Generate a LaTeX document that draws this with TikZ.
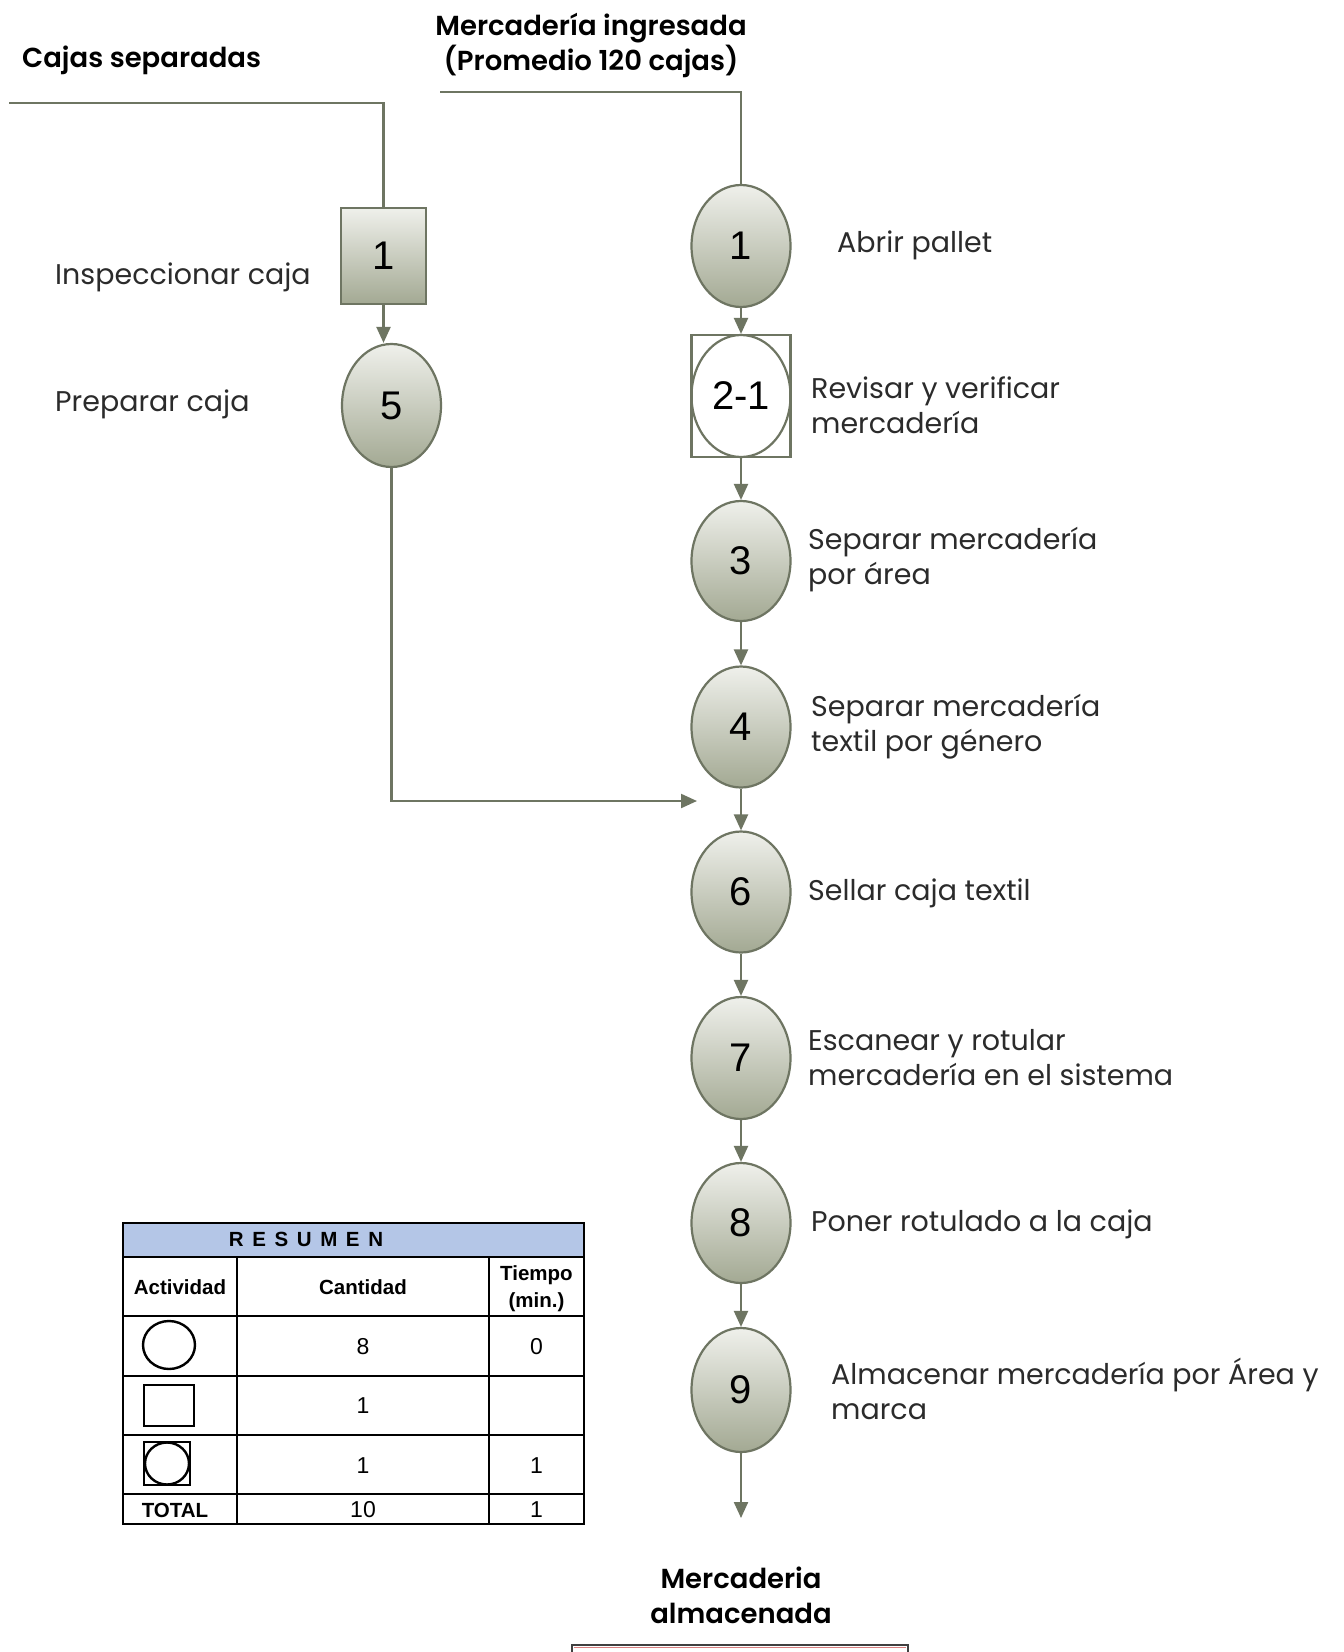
\documentclass[tikz,border=0pt]{standalone}
\usepackage{fontspec}
\setmainfont{Poppins}
\newfontfamily\ttlfont{Poppins SemiBold}
\newfontfamily\tabfont{Liberation Sans}
\usetikzlibrary{arrows.meta,shapes.geometric}
\definecolor{flowc}{HTML}{6E7562}
\definecolor{nodetop}{HTML}{EFF0EB}
\definecolor{nodebot}{HTML}{A3A993}
\definecolor{headblue}{HTML}{B4C6E7}
\definecolor{desctext}{HTML}{2B2B2B}
\definecolor{endred}{HTML}{D98080}

\begin{document}
\begin{tikzpicture}[x=1pt,y=-1pt,
  flow/.style={draw=flowc,line width=2.2pt},
  arr/.style={flow,-{Triangle[length=16pt,width=14pt]}},
  numfont/.style={font=\tabfont\fontsize{40}{42}\selectfont},
  opnode/.style={ellipse,draw=flowc,line width=2.2pt,top color=nodetop,bottom color=nodebot,
    minimum width=99pt,minimum height=121pt,inner sep=0pt,numfont},
  insnode/.style={rectangle,draw=flowc,line width=2.2pt,top color=nodetop,bottom color=nodebot,
    minimum width=85pt,minimum height=96pt,inner sep=0pt,numfont},
  combnode/.style={rectangle,draw=flowc,line width=2.2pt,fill=white,
    minimum width=99pt,minimum height=122pt,inner sep=0pt},
  desc/.style={anchor=west,align=left,text=desctext,inner sep=0pt,font=\fontsize{28.5}{35}\selectfont},
  ttl/.style={align=center,inner sep=0pt,font=\ttlfont\fontsize{27.5}{35}\selectfont},
  tabline/.style={draw=black,line width=1.8pt},
  cell/.style={inner sep=0pt,align=center,font=\tabfont\fontsize{23}{27}\selectfont},
  cellb/.style={inner sep=0pt,align=center,font=\tabfont\bfseries\fontsize{20.5}{27}\selectfont},
  sym/.style={draw=black,line width=2.4pt}
]
\useasboundingbox (0,0) rectangle (1344,1652);
\fill[white] (0,0) rectangle (1344,1652);

% ---- titles
\node[ttl,anchor=west] (tcajas) at (22,60) {Cajas separadas};
\node[ttl] (tmerc) at (591,45) {Mercadería ingresada\\(Promedio 120 cajas)};

% ---- left branch
\node[insnode] (b1) at (383.5,256) {1};
\node[opnode,minimum height=123pt] (e5) at (391.5,405.5) {5};
\coordinate (inL) at (9,103);
\draw[flow] (inL) -| (b1.north);
\draw[arr] (b1.south) -- (b1.south |- e5.north);
\node[desc] (dins) at (55,277) {Inspeccionar caja};
\node[desc] (dprep) at (55,404) {Preparar caja};

% ---- main column
\node[opnode,minimum height=122pt] (e1) at (741,246) {1};
\node[combnode] (b21) at (741,396) {};
\draw[flow] (b21.center) ellipse [x radius=49.5, y radius=61];
\node[inner sep=0pt,numfont] (l21) at (b21.center) {2-1};
\node[opnode,minimum height=120pt] (e3) at (741,561) {3};
\node[opnode] (e4) at (741,727) {4};
\node[opnode] (e6) at (741,892) {6};
\node[opnode,minimum height=122pt] (e7) at (741,1058) {7};
\node[opnode,minimum height=120pt] (e8) at (741,1223) {8};
\node[opnode,minimum height=124pt] (e9) at (741,1390) {9};

\coordinate (inR) at (440,92);
\draw[flow] (inR) -| (e1.north);
\draw[arr] (e1.south) -- (b21.north);
\draw[arr] (b21.south) -- (e3.north);
\draw[arr] (e3.south) -- (e4.north);
\draw[arr] (e4.south) -- (e6.north);
\draw[arr] (e6.south) -- (e7.north);
\draw[arr] (e7.south) -- (e8.north);
\draw[arr] (e8.south) -- (e9.north);
\coordinate (outR) at (741,1518);
\draw[arr] (e9.south) -- (outR);

% merge of the prepared boxes into the main flow
\coordinate (merge) at (697,801);
\draw[arr] (e5.south) |- (merge);

% ---- step descriptions
\node[desc] (d1) at (837,245) {Abrir pallet};
\node[desc] (d21) at (811,405) {Revisar y verificar\\mercadería};
\node[desc] (d3) at (808,560) {Separar mercadería\\por área};
\node[desc] (d4) at (811,727) {Separar mercadería\\textil por género};
\node[desc] (d6) at (808,893) {Sellar caja textil};
\node[desc] (d7) at (808,1058) {Escanear y rotular\\mercadería en el sistema};
\node[desc] (d8) at (811,1224) {Poner rotulado a la caja};
\node[desc] (d9) at (831,1389) {Almacenar mercadería por Área y\\marca};

% ---- end
\node[ttl] (tend) at (741,1595) {Mercaderia\\almacenada};
\draw[draw=black!75,line width=2pt] (572,1662) -- (572,1645) -- (908,1645) -- (908,1662);
\draw[endred,line width=1.5pt] (574,1647.5) -- (906,1647.5);

% ---- summary table
\fill[headblue] (123,1223) rectangle (584,1257);
\draw[tabline] (123,1223) rectangle (584,1524);
\foreach \yy in {1257,1316,1376,1435,1494} \draw[tabline] (123,\yy) -- (584,\yy);
\foreach \xx in {237,489} \draw[tabline] (\xx,1257) -- (\xx,1524);

\node[cellb] (hres) at (306,1239) {R\hspace{0.42em}E\hspace{0.42em}S\hspace{0.42em}U\hspace{0.42em}M\hspace{0.42em}E\hspace{0.42em}N};
\node[cellb] (hact) at (180,1287) {Actividad};
\node[cellb] (hcant) at (363,1287) {Cantidad};
\node[cellb] (htime) at (536.5,1289) {Tiempo\\(min.)};

\draw[sym] (169,1345) ellipse [x radius=26, y radius=24];
\node[cell] (c1) at (363,1347) {8};
\node[cell] (t1) at (536.5,1347) {0};

\draw[sym] (144,1385) rectangle (194,1426);
\node[cell] (c2) at (363,1406) {1};

\draw[sym] (144,1442) rectangle (190,1485);
\draw[sym] (167,1463.5) ellipse [x radius=22, y radius=21];
\node[cell] (c3) at (363,1466) {1};
\node[cell] (t3) at (536.5,1466) {1};

\node[cellb] (ftot) at (175,1510) {TOTAL};
\node[cell] (fcant) at (363,1510) {10};
\node[cell] (ftime) at (536.5,1510) {1};
\end{tikzpicture}
\end{document}
